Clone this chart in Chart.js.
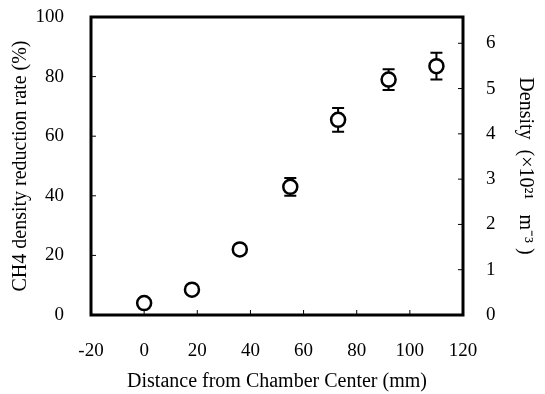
<!DOCTYPE html>
<html>
<head>
<meta charset="utf-8">
<script src="https://cdn.jsdelivr.net/npm/chart.js@4/dist/chart.umd.min.js"></script>
<style>
html, body { margin: 0; padding: 0; background: #fff; }
</style>
</head>
<body>
<canvas id="myChart" width="545" height="394"></canvas>
<script>
// data
var distance = [0, 18, 36, 55, 73, 92, 110];
var reduction = [4, 8.5, 22, 43, 65.5, 79, 83.5];
var errorBar = [0, 0, 1, 3, 4, 3.5, 4.5];
var xTicks = [-20, 0, 20, 40, 60, 80, 100, 120];
var leftTicks = [0, 20, 40, 60, 80, 100];
var rightTicks = [0, 1, 2, 3, 4, 5, 6];
var densityMax = 6.58;

var points = distance.map((d, i) => ({ x: d, y: reduction[i] }));
var serif = 'Liberation Serif';

// frame, inward ticks and error bars
var framePlugin = {
    id: 'frame',
    beforeDatasetsDraw(chart) {
        var ctx = chart.ctx;
        var a = chart.chartArea;
        var sx = chart.scales.x, sy = chart.scales.y, sy1 = chart.scales.y1;
        ctx.save();
        ctx.strokeStyle = '#000';
        ctx.lineWidth = 1;
        ctx.beginPath();
        xTicks.forEach(v => {
            var px = sx.getPixelForValue(v);
            ctx.moveTo(px, a.bottom); ctx.lineTo(px, a.bottom - 5);
        });
        leftTicks.forEach(v => {
            var py = sy.getPixelForValue(v);
            ctx.moveTo(a.left, py); ctx.lineTo(a.left + 5, py);
        });
        rightTicks.forEach(v => {
            var py = sy1.getPixelForValue(v);
            ctx.moveTo(a.right, py); ctx.lineTo(a.right - 5, py);
        });
        ctx.stroke();

        // error bars
        ctx.lineWidth = 2;
        ctx.beginPath();
        distance.forEach((d, i) => {
            if (!errorBar[i]) return;
            var px = sx.getPixelForValue(d);
            var top = sy.getPixelForValue(reduction[i] + errorBar[i]);
            var bot = sy.getPixelForValue(reduction[i] - errorBar[i]);
            ctx.moveTo(px, top); ctx.lineTo(px, bot);
            ctx.moveTo(px - 6, top); ctx.lineTo(px + 6, top);
            ctx.moveTo(px - 6, bot); ctx.lineTo(px + 6, bot);
        });
        ctx.stroke();

        ctx.lineWidth = 3;
        ctx.strokeRect(a.left, a.top, a.right - a.left, a.bottom - a.top);
        ctx.restore();
    }
};

// fixed axis sizes, no extra room for the end labels
function fixSize(w) {
    return s => { s.width = w; s.paddingTop = 0; s.paddingBottom = 0; };
}

var ctx = document.getElementById('myChart').getContext('2d');
var myChart = new Chart(ctx, {
    type: 'scatter',
    data: {
        datasets: [{
            label: 'CH4 density reduction rate',
            data: points,
            pointStyle: 'circle',
            pointRadius: 7,
            pointHoverRadius: 7,
            pointBorderWidth: 2.5,
            pointBorderColor: '#000',
            pointBackgroundColor: '#fff',
            showLine: false
        }]
    },
    options: {
        responsive: false,
        animation: false,
        events: [],
        layout: { padding: { top: 17 } },
        plugins: {
            legend: { display: false },
            tooltip: { enabled: false }
        },
        scales: {
            x: {
                type: 'linear',
                min: -20,
                max: 120,
                afterBuildTicks: s => { s.ticks = xTicks.map(v => ({ value: v })); },
                afterFit: s => { s.height = 79; },
                grid: { display: false },
                border: { display: false },
                ticks: { color: '#000', padding: 17, font: { family: serif, size: 19 } },
                title: {
                    display: true,
                    text: 'Distance from Chamber Center (mm)',
                    color: '#000',
                    padding: { top: 0, bottom: 0 },
                    font: { family: serif, size: 20 }
                }
            },
            y: {
                position: 'left',
                min: 0,
                max: 100,
                afterBuildTicks: s => { s.ticks = leftTicks.map(v => ({ value: v })); },
                afterFit: fixSize(91),
                grid: { display: false },
                border: { display: false },
                ticks: { color: '#000', padding: 19, font: { family: serif, size: 19 } },
                title: {
                    display: true,
                    text: 'CH4 density reduction rate (%)',
                    color: '#000',
                    padding: { top: 9, bottom: 0 },
                    font: { family: serif, size: 20 }
                }
            },
            y1: {
                position: 'right',
                min: 0,
                max: densityMax,
                afterBuildTicks: s => { s.ticks = rightTicks.map(v => ({ value: v })); },
                afterFit: fixSize(82),
                grid: { display: false },
                border: { display: false },
                ticks: { color: '#000', padding: 15, font: { family: serif, size: 19 } },
                title: {
                    display: true,
                    text: 'Density  (×10²¹   m⁻³ )',
                    color: '#000',
                    padding: { top: 8, bottom: 0 },
                    font: { family: serif, size: 20 }
                }
            }
        }
    },
    plugins: [framePlugin]
});
</script>
</body>
</html>
